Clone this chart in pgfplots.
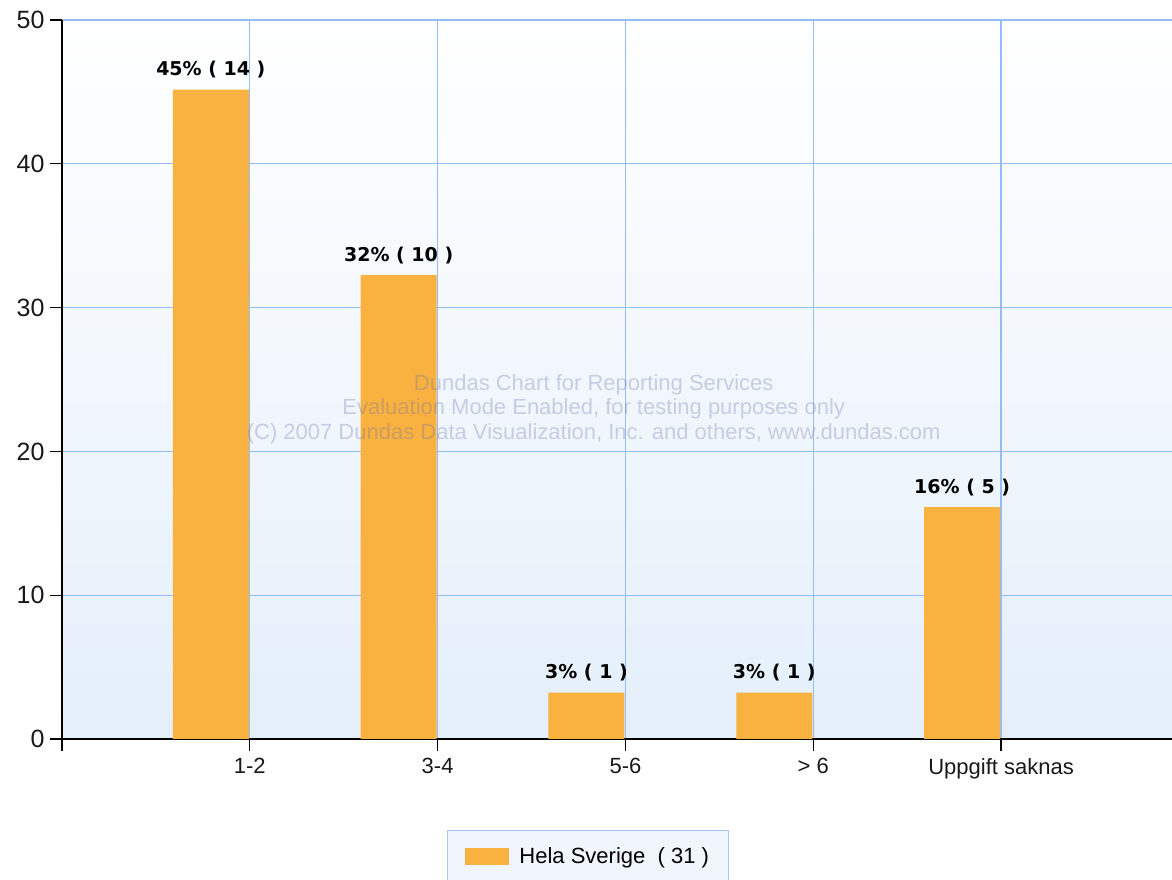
\documentclass[border=0pt]{standalone}
\usepackage{pgfplots}
\pgfplotsset{compat=1.18}
\usepackage{fontspec}
\setmainfont{Liberation Sans}
\newfontfamily\labfont{DejaVu Sans}
\definecolor{barc}{RGB}{249,177,64}
\definecolor{gridc}{RGB}{150,188,244}
\definecolor{legc}{RGB}{165,198,242}
\definecolor{bgbot}{RGB}{228,239,250}
\definecolor{wm}{RGB}{100,110,170}
\definecolor{legbg}{RGB}{240,246,252}
\begin{document}
\begin{tikzpicture}[x=1pt,y=1pt]
\path[use as bounding box] (0,0) rectangle (1172,880);
\begin{axis}[
  at={(62pt,141pt)}, anchor=south west,
  scale only axis, width=1110pt, height=719pt,
  xmin=-1, xmax=4.91, ymin=0, ymax=50,
  ytick={0,10,20,30,40,50},
  xtick={0,1,2,3,4},
  xticklabels={1-2,3-4,5-6,> 6,Uppgift saknas},
  extra x ticks={-1}, extra x tick labels={}, extra x tick style={grid=none},
  axis x line*=bottom, axis y line*=left,
  axis line style={black, line width=1.3pt, -},
  grid=major,
  grid style={color=gridc, line width=1.3pt},
  tick align=outside, major tick length=12pt,
  every tick/.style={color=black, line width=1.3pt},
  axis background/.style={top color=white, bottom color=bgbot},
  xticklabel style={font=\fontsize{22}{26}\selectfont, text=black!90, yshift=-4pt},
  yticklabel style={font=\fontsize{25}{28}\selectfont, text=black!90, xshift=-2pt},
  /pgf/number format/assume math mode=true,
  ybar, bar width=76pt,
  legend style={at={(axis description cs:0.3468,-0.1266)}, anchor=north west,
    draw=legc, fill=legbg, line width=1pt,
    font=\fontsize{22}{26}\selectfont, inner xsep=18pt, inner ysep=15pt},
  legend image code/.code={\fill[barc] (0pt,-8.5pt) rectangle (44pt,8.5pt); \path (52pt,0pt);},
]
\addplot[fill=barc, draw=none, bar shift=-39pt,
  nodes near coords, point meta=explicit symbolic,
  nodes near coords style={font=\labfont\bfseries\fontsize{19}{19}\selectfont, text=black, anchor=south, yshift=8pt}]
  coordinates {
  (0,45.16) [45\% ( 14 )]
  (1,32.26) [32\% ( 10 )]
  (2,3.23) [3\% ( 1 )]
  (3,3.23) [3\% ( 1 )]
  (4,16.13) [16\% ( 5 )]
  };
\addlegendentry{Hela Sverige\ \ ( 31 )}
\node[align=center, font=\fontsize{22}{24.5}\selectfont, text=wm, text opacity=0.3]
  at (axis description cs:0.479,0.459)
  {Dundas Chart for Reporting Services\\Evaluation Mode Enabled, for testing purposes only\\(C) 2007 Dundas Data Visualization, Inc. and others, www.dundas.com};
\end{axis}
\end{tikzpicture}
\end{document}
